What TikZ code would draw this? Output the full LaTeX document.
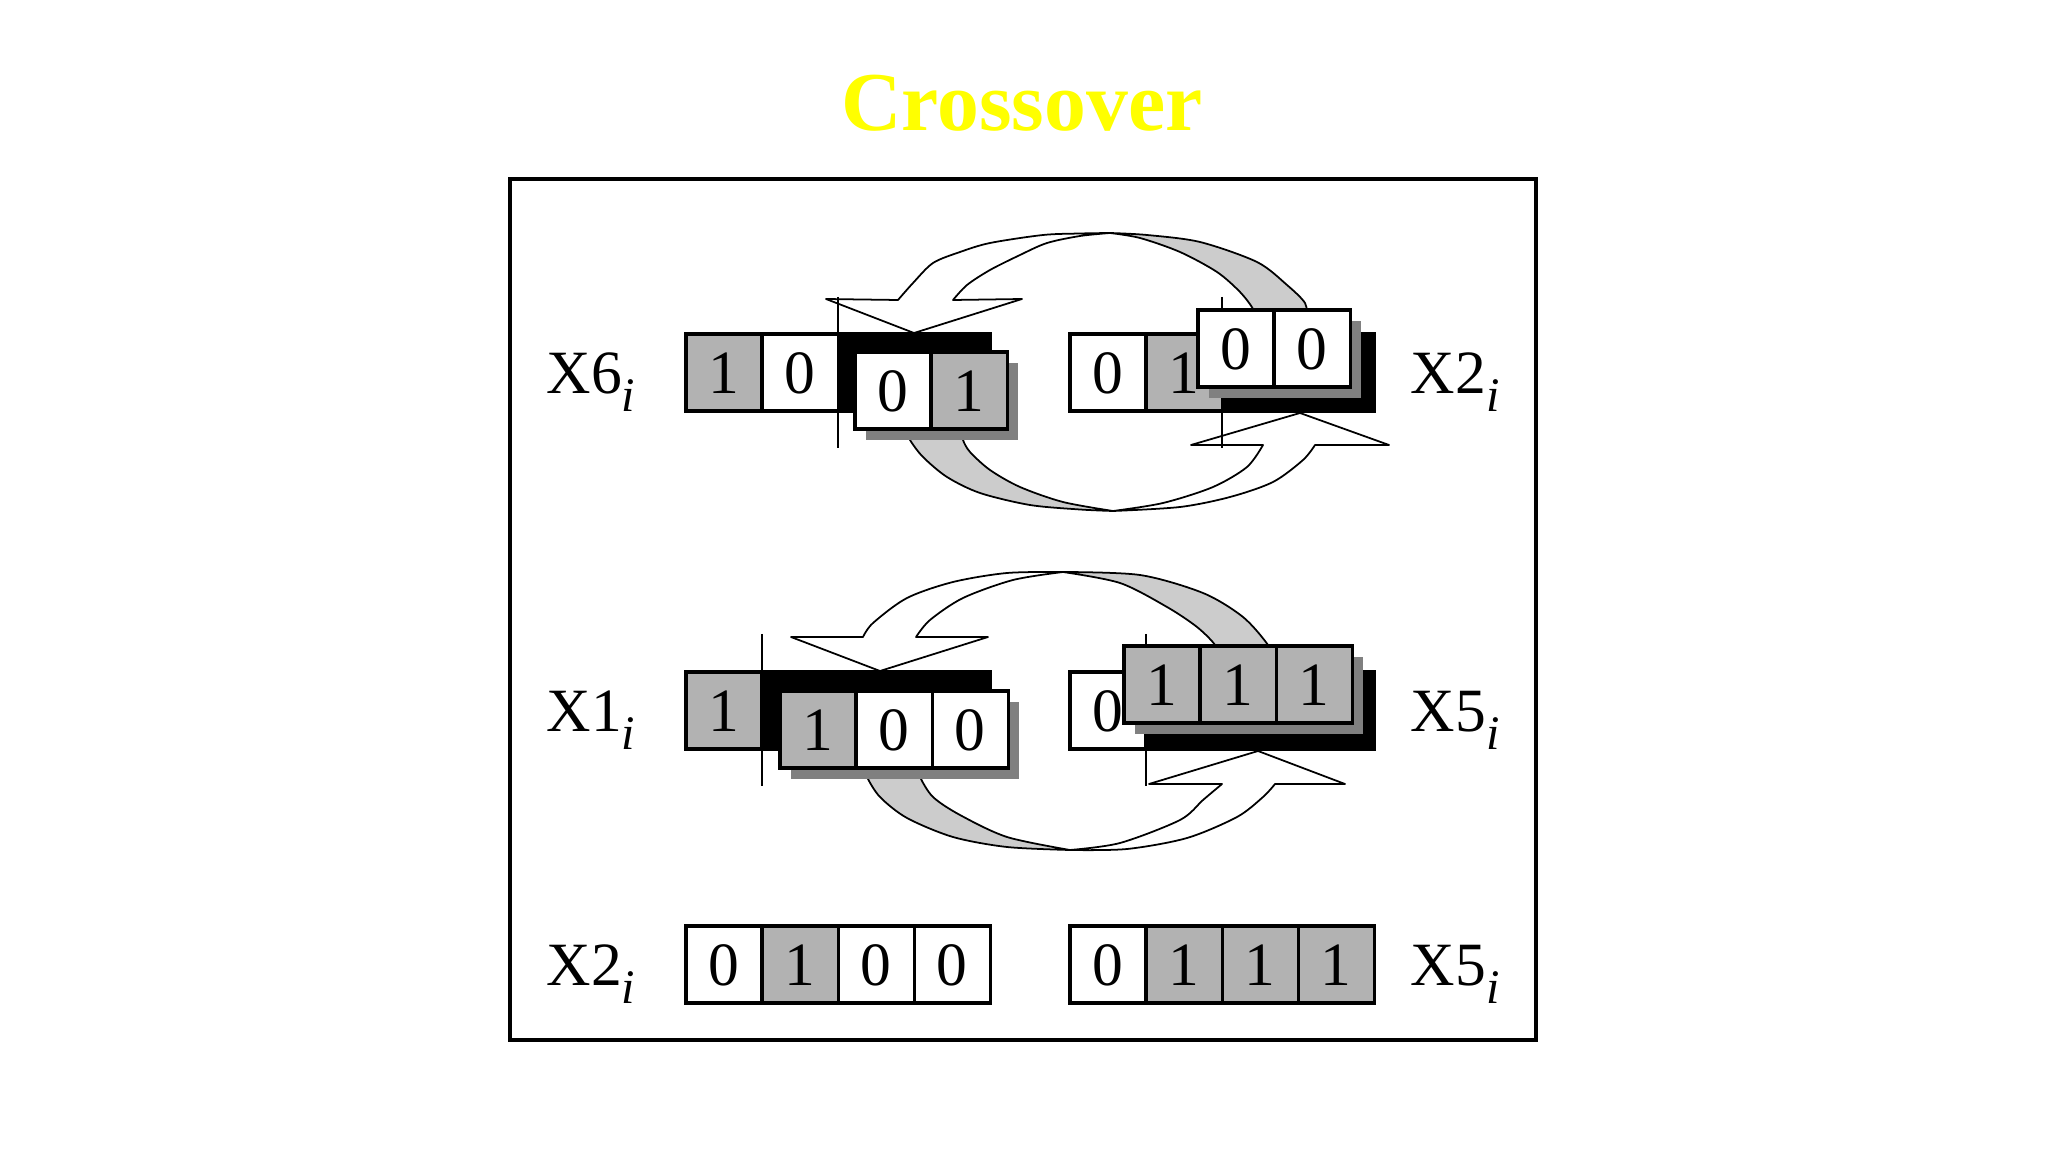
\documentclass[tikz,border=0pt]{standalone}
\usepackage{fontspec}
\setmainfont{Liberation Serif}
\usetikzlibrary{
  positioning,
  shadows
}
\definecolor{bitgray}{HTML}{B2B2B2}
\definecolor{shadegray}{HTML}{808080}
\definecolor{bandgray}{HTML}{CCCCCC}
\definecolor{titleyellow}{HTML}{FFFF00}
\newcommand{\bitfont}{\fontsize{17.5pt}{18pt}\selectfont}
\newcommand{\xsub}[1]{\raisebox{-0.18cm}{\fontsize{13.7pt}{14pt}\selectfont\itshape #1}}

\begin{document}
\begin{tikzpicture}[
  x=0.01cm, y=-0.01cm,
  node distance=0pt,
  cell/.style={draw, line width=0.9pt, minimum width=0.76cm, minimum height=0.77cm,
    inner sep=0pt, outer sep=0pt, text height=0.41cm, text depth=0pt, font=\bitfont},
  bitone/.style={cell, fill=bitgray},
  bitzero/.style={cell, fill=white},
  hole/.style={cell, fill=black},
  moved/.style={drop shadow={shadow xshift=0.11cm, shadow yshift=-0.11cm,
    fill=shadegray, opacity=1}},
  band/.style={draw, line width=0.5pt, line join=round},
  cut/.style={line width=0.5pt},
  lbl/.style={inner sep=0pt, font=\bitfont}
]
  \useasboundingbox (0,0) rectangle (2048,1152);

  % Title
  \node[font=\fontsize{23.8pt}{26pt}\selectfont\bfseries, text=titleyellow,
    anchor=base, inner sep=0pt] (title) at (1022,131) {Crossover};

  % Frame
  \draw[line width=1pt] (510,179) rectangle (1536,1040);

  % Swap arrows, first pair
  \path[band, fill=white] plot[smooth] coordinates {(1110,233) (1080,233.5) (1043,235) (990,243) (960,252) (933,263) (913,283) (898,300)}
    -- (826,299) -- (914,333) -- (1022,299) -- (953,300)
    -- plot[smooth] coordinates {(953,300) (967,285) (990,270) (1020,255) (1047,243) (1080,236) (1110,233)} -- cycle;
  \path[band, fill=bandgray] plot[smooth] coordinates {(1110,233) (1147,235) (1200,242) (1257,262) (1287,285) (1305,303) (1307,318)}
    -- plot[smooth] coordinates {(1253,318) (1253,309) (1240,292) (1217,272) (1180,252) (1140,238) (1110,233)} -- cycle;
  \path[band, fill=bandgray] plot[smooth] coordinates {(908,432) (910,440) (923,457) (947,477) (980,493) (1030,505) (1080,509.5) (1113,511)}
    -- plot[smooth] coordinates {(1113,511) (1063,502) (1020,487) (990,470) (970,452) (963,440) (963,432)} -- cycle;
  \path[band, fill=white] plot[smooth] coordinates {(1113,511) (1180,507) (1230,497) (1273,482) (1303,460) (1315,445)}
    -- (1389,445) -- (1300,413) -- (1191,445) -- (1263,445)
    -- plot[smooth] coordinates {(1263,445) (1247,467) (1213,487) (1163,503) (1113,511)} -- cycle;

  % Swap arrows, second pair
  \path[band, fill=white] plot[smooth] coordinates {(1063,572) (1007,573) (953,582) (907,598) (873,623) (863,637)}
    -- (791,637) -- (880,671) -- (988,637) -- (916,637)
    -- plot[smooth] coordinates {(916,637) (930,620) (963,598) (1013,580) (1063,572)} -- cycle;
  \path[band, fill=bandgray] plot[smooth] coordinates {(1063,572) (1140,575) (1203,593) (1243,617) (1268,645) (1269,655)}
    -- plot[smooth] coordinates {(1215,655) (1215,645) (1197,627) (1167,607) (1120,583) (1063,572)} -- cycle;
  \path[band, fill=bandgray] plot[smooth] coordinates {(867,770) (867,777) (880,797) (907,818) (953,837) (1007,847) (1070,850)}
    -- plot[smooth] coordinates {(1070,850) (1007,837) (960,815) (933,797) (920,777) (920,770)} -- cycle;
  \path[band, fill=white] plot[smooth] coordinates {(1070,850) (1127,849) (1187,838) (1237,817) (1263,797) (1275,784)}
    -- (1345,784) -- (1258,751) -- (1149,784) -- (1222,784)
    -- plot[smooth] coordinates {(1222,784) (1203,800) (1180,820) (1120,843) (1070,850)} -- cycle;

  % X6 and X2 before the swap
  \node[bitone, anchor=north west] (x6a) at (686,334) {1};
  \node[bitzero, right=of x6a] (x6b) {0};
  \node[hole, minimum width=1.52cm, right=of x6b] (x6hole) {};
  \node[lbl, base left=0.5cm of x6a] (x6lab) {X6\xsub{i}};

  \node[bitzero, anchor=north west] (x2a) at (1070,334) {0};
  \node[bitone, right=of x2a] (x2b) {1};
  \node[hole, minimum width=1.52cm, right=of x2b] (x2hole) {};
  \node[lbl, base right=0.36cm of x2hole] (x2lab) {X2\xsub{i}};

  % X1 and X5 before the swap
  \node[bitone, anchor=north west] (x1a) at (686,672) {1};
  \node[hole, minimum width=2.28cm, right=of x1a] (x1hole) {};
  \node[lbl, base left=0.5cm of x1a] (x1lab) {X1\xsub{i}};

  \node[bitzero, anchor=north west] (x5a) at (1070,672) {0};
  \node[hole, minimum width=2.28cm, right=of x5a] (x5hole) {};
  \node[lbl, base right=0.36cm of x5hole] (x5lab) {X5\xsub{i}};

  % Crossover points
  \draw[cut] ([yshift=0.37cm]x6hole.north west) -- ([yshift=-0.37cm]x6hole.south west);
  \draw[cut] ([yshift=0.37cm]x2hole.north west) -- ([yshift=-0.37cm]x2hole.south west);
  \draw[cut] ([yshift=0.38cm]x1hole.north west) -- ([yshift=-0.37cm]x1hole.south west);
  \draw[cut] ([yshift=0.38cm]x5hole.north west) -- ([yshift=-0.37cm]x5hole.south west);

  % Moved tails
  \node[bitzero, moved, anchor=north west] (x6c) at (855,352) {0};
  \node[bitone, moved, right=of x6c] (x6d) {1};

  \node[bitzero, moved, anchor=north west] (x2c) at (1198,310) {0};
  \node[bitzero, moved, right=of x2c] (x2d) {0};

  \node[bitone, moved, anchor=north west] (x1b) at (780,691) {1};
  \node[bitzero, moved, right=of x1b] (x1c) {0};
  \node[bitzero, moved, right=of x1c] (x1d) {0};

  \node[bitone, moved, anchor=north west] (x5b) at (1124,646) {1};
  \node[bitone, moved, right=of x5b] (x5c) {1};
  \node[bitone, moved, right=of x5c] (x5d) {1};

  % Offspring
  \node[bitzero, anchor=north west] (n2a) at (686,926) {0};
  \node[bitone, right=of n2a] (n2b) {1};
  \node[bitzero, right=of n2b] (n2c) {0};
  \node[bitzero, right=of n2c] (n2d) {0};
  \node[lbl, base left=0.5cm of n2a] (n2lab) {X2\xsub{i}};

  \node[bitzero, anchor=north west] (n5a) at (1070,926) {0};
  \node[bitone, right=of n5a] (n5b) {1};
  \node[bitone, right=of n5b] (n5c) {1};
  \node[bitone, right=of n5c] (n5d) {1};
  \node[lbl, base right=0.36cm of n5d] (n5lab) {X5\xsub{i}};
\end{tikzpicture}
\end{document}
